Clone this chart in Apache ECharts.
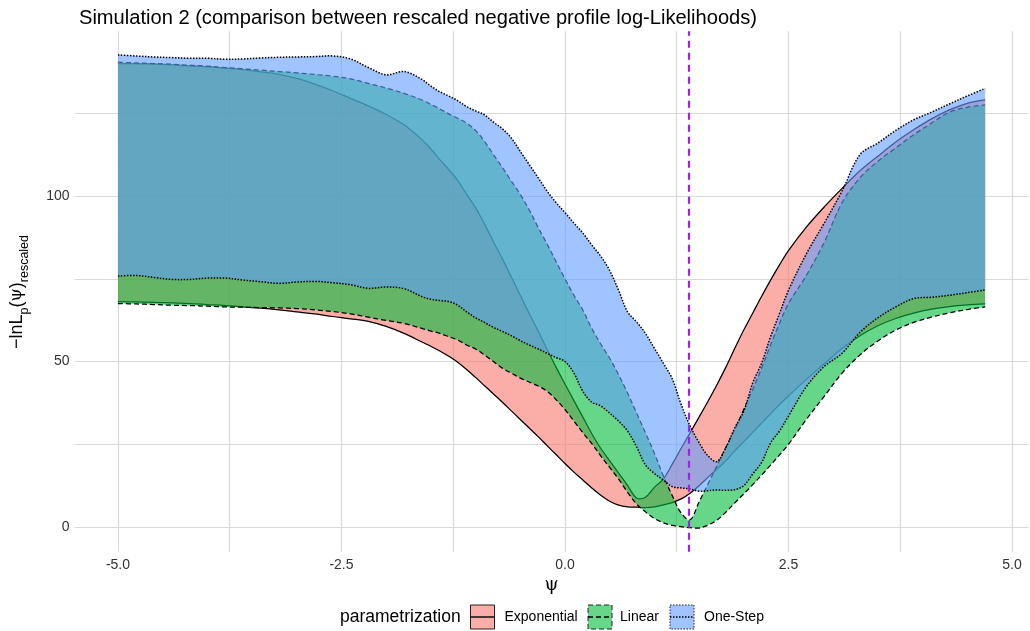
<!DOCTYPE html>
<html>
<head>
<meta charset="utf-8">
<script src="https://cdn.jsdelivr.net/npm/echarts@6/dist/echarts.min.js"></script>
<style>
  html, body { margin: 0; padding: 0; background: #ffffff; }
  #chart { width: 1030px; height: 631px; }
</style>
</head>
<body>
<div id="chart"></div>
<script>
// psi grid shared by all bounds
const psi = [
  -5.0, -4.8, -4.6, -4.4, -4.2, -4.0, -3.8, -3.6, -3.4, -3.2, -3.0, -2.8, -2.6, -2.4, -2.2, -2.0, -1.8, -1.6,
  -1.5, -1.4, -1.3, -1.2, -1.1, -1.0, -0.9, -0.8, -0.7, -0.6, -0.5, -0.4, -0.3, -0.2, -0.1,
  0.0, 0.1, 0.2, 0.3, 0.4, 0.5, 0.6, 0.7, 0.8, 0.9, 1.0, 1.1, 1.2, 1.3, 1.4, 1.5, 1.6, 1.7, 1.8, 1.9,
  2.0, 2.1, 2.2, 2.3, 2.4, 2.5, 2.7, 2.9, 3.1, 3.3, 3.5, 3.7, 3.9, 4.1, 4.3, 4.5, 4.7
];

// Exponential parametrization: lower / upper bound
const expLo = [
  68.1, 68.0, 67.9, 67.7, 67.5, 67.2, 66.9, 66.5, 66.1, 65.6, 65.0, 64.4, 63.6, 62.9, 62.1, 60.6, 58.5, 55.9,
  54.6, 53.2, 51.6, 49.8, 47.6, 45.2, 42.7, 40.2, 37.7, 35.1, 32.5, 29.9, 27.3, 24.6, 21.9,
  19.2, 16.6, 14.2, 11.8, 9.6, 7.8, 6.6, 6.1, 6.0, 5.9, 6.1, 6.7, 7.4, 8.5, 10.2, 12.5, 15.0, 17.5, 20.0, 23.0,
  25.8, 28.6, 31.4, 34.2, 37.0, 39.6, 44.6, 49.3, 54.0, 57.8, 60.8, 63.0, 64.6, 65.8, 66.6, 67.1, 67.4
];
const expHi = [
  140.0, 140.0, 139.8, 139.6, 139.3, 139.0, 138.6, 138.2, 137.5, 136.7, 135.5, 133.8, 131.8, 129.5, 127.2, 124.6, 121.5, 117.0,
  114.2, 111.0, 108.0, 104.7, 100.5, 96.5, 91.5, 86.2, 81.0, 75.5, 70.0, 64.5, 59.2, 53.7, 48.3,
  43.2, 38.2, 33.2, 28.2, 23.8, 20.0, 16.3, 12.6, 8.8, 9.0, 12.0, 14.5, 19.0, 23.8, 28.5, 33.2, 38.0, 43.0, 48.3, 54.0,
  59.5, 64.6, 69.7, 74.6, 79.2, 83.5, 90.6, 96.7, 102.3, 107.6, 112.0, 116.3, 120.0, 123.3, 126.0, 128.0, 129.0
];

// Linear parametrization: lower / upper bound
const linLo = [
  67.5, 67.4, 67.2, 67.0, 66.9, 66.7, 66.5, 66.4, 66.3, 66.2, 66.0, 65.6, 65.1, 64.4, 63.4, 62.4, 61.5, 60.0,
  59.2, 58.5, 57.5, 56.5, 55.0, 53.8, 52.0, 50.0, 48.0, 46.5, 45.0, 43.8, 42.6, 41.0, 38.5,
  35.5, 32.0, 28.5, 25.2, 21.5, 18.0, 14.5, 10.5, 7.0, 4.6, 2.6, 1.3, 0.5, 0.1, -0.2, -0.3, 0.6, 2.1, 4.5, 7.3,
  10.0, 12.8, 15.7, 18.7, 21.8, 25.0, 32.5, 39.5, 46.5, 52.0, 56.2, 59.5, 61.8, 63.4, 64.7, 65.7, 66.5
];
const linHi = [
  140.4, 140.2, 140.0, 139.8, 139.5, 139.2, 138.8, 138.4, 138.0, 137.6, 137.2, 136.7, 136.2, 135.4, 134.0, 132.6, 131.0, 129.0,
  127.7, 126.3, 124.8, 123.5, 122.0, 119.8, 116.5, 112.5, 108.6, 104.5, 100.5, 95.8, 90.5, 85.5, 80.2,
  75.0, 70.0, 65.5, 60.0, 55.3, 51.0, 46.0, 40.5, 34.5, 28.5, 22.3, 15.5, 9.5, 4.2, 2.2, 7.6, 13.0, 18.5, 24.0, 29.5,
  35.5, 41.5, 48.0, 55.0, 61.5, 67.5, 76.0, 86.0, 98.0, 105.5, 110.5, 114.5, 118.5, 122.0, 125.3, 126.8, 127.5
];

// One-Step parametrization: lower / upper bound
const osLo = [
  75.8, 76.0, 75.4, 74.8, 74.8, 75.2, 75.2, 74.6, 74.1, 73.6, 74.0, 74.2, 73.8, 73.2, 72.1, 72.5, 72.0, 69.6,
  68.8, 68.4, 68.1, 67.0, 65.0, 63.2, 61.8, 60.3, 59.1, 57.8, 56.3, 55.0, 53.8, 52.5, 51.2,
  50.0, 46.5, 41.0, 37.7, 36.6, 34.4, 32.0, 29.0, 24.3, 18.8, 16.2, 14.2, 12.2, 11.8, 11.5, 10.8, 11.0, 11.2, 11.1, 11.3,
  12.5, 16.0, 19.5, 25.4, 29.0, 33.5, 42.4, 48.5, 52.5, 58.8, 63.2, 66.5, 69.0, 69.4, 70.0, 70.8, 71.6
];
const osHi = [
  142.6, 142.3, 142.0, 141.8, 141.6, 141.6, 141.3, 141.4, 141.7, 141.9, 142.0, 142.1, 142.3, 141.4, 138.8, 136.6, 137.6, 135.2,
  133.2, 131.5, 130.2, 128.8, 127.0, 125.7, 124.5, 122.3, 120.3, 117.5, 113.5, 109.5, 105.5, 101.5, 98.0,
  95.0, 91.8, 88.8, 85.2, 81.8, 77.5, 71.5, 65.0, 62.0, 58.5, 54.0, 49.5, 44.8, 37.0, 30.5, 25.5, 21.5, 19.8, 24.0, 30.0,
  35.0, 43.5, 49.5, 57.5, 64.5, 71.5, 82.5, 91.8, 101.5, 112.5, 116.0, 119.8, 123.0, 125.3, 127.8, 130.2, 132.5
];

// reference value of psi (dashed vertical line)
const refPsi = 1.386;

// grid breaks
const xMajor = [-5, -2.5, 0, 2.5, 5];
const xMinor = [-3.75, -1.25, 1.25, 3.75];
const yMajor = [0, 50, 100];
const yMinor = [25, 75, 125];

const groupNames = ['Exponential', 'Linear', 'One-Step'];

const SANS = 'Liberation Sans, Arial, Helvetica, sans-serif';
const fillsA = ['rgba(248,118,109,0.6)', 'rgba(0,186,56,0.6)', 'rgba(97,156,255,0.6)'];
const dashes = [null, [5, 3], [1.5, 1.5]];
const edgeWidths = [1.25, 1.25, 1.5];
const bounds = [[expLo, expHi], [linLo, linHi], [osLo, osHi]];
const SMOOTH = 0.35;

// ggplot-style 5% expansion of the data range
function expand(lo, hi) { const d = (hi - lo) * 0.05; return [lo - d, hi + d]; }
const allY = [].concat(expLo, expHi, linLo, linHi, osLo, osHi);
const [xMin, xMax] = expand(Math.min(...psi), Math.max(...psi));
const [yMin, yMax] = expand(Math.min(...allY), Math.max(...allY));

const near = (v, step) => Math.abs(v / step - Math.round(v / step)) < 1e-6;

const series = [];

// panel grid lines
series.push({
  type: 'line', data: [], silent: true,
  markLine: {
    silent: true, z: 0, animation: false, symbol: ['none', 'none'],
    label: { show: false },
    lineStyle: { color: '#D9D9D9', width: 1.2, type: 'solid' },
    data: xMajor.concat(xMinor).map(v => ({ xAxis: v }))
      .concat(yMajor.concat(yMinor).map(v => ({ yAxis: v })))
  }
});

// ribbons: filled band between lower and upper bound, outlined on both edges
groupNames.forEach((name, k) => {
  const lo = bounds[k][0], hi = bounds[k][1];
  series.push({
    name, type: 'custom', coordinateSystem: 'cartesian2d', silent: true, z: 2 + k,
    data: [[psi[0], lo[0]]],
    renderItem: (params, api) => {
      const loPts = psi.map((x, i) => api.coord([x, lo[i]]));
      const hiPts = psi.map((x, i) => api.coord([x, hi[i]]));
      const n = psi.length;
      // corners doubled so the closing edges stay straight when smoothed
      const ring = [hiPts[0]].concat(hiPts, [hiPts[n - 1], loPts[n - 1]],
        loPts.slice().reverse(), [loPts[0]]);
      const edge = { fill: null, stroke: '#000000', lineWidth: edgeWidths[k], lineDash: dashes[k], lineJoin: 'round' };
      return {
        type: 'group',
        children: [
          { type: 'polygon', shape: { points: ring, smooth: SMOOTH }, style: { fill: fillsA[k] } },
          { type: 'polyline', shape: { points: loPts, smooth: SMOOTH }, style: edge },
          { type: 'polyline', shape: { points: hiPts, smooth: SMOOTH }, style: edge }
        ]
      };
    }
  });
});

// reference line
series.push({
  type: 'line', data: [], silent: true,
  markLine: {
    silent: true, z: 20, animation: false, symbol: ['none', 'none'],
    label: { show: false },
    lineStyle: { color: '#A020F0', width: 2.2, type: [7, 5] },
    data: [{ xAxis: refPsi }]
  }
});

// legend drawn as graphic elements
const legendTop = 605, keySize = 24;
const keyX = [470.5, 588, 670];
const labelX = [504.5, 620, 704];
const graphic = [
  {
    type: 'text', x: 340, y: legendTop + keySize / 2,
    style: { text: 'parametrization', font: '17.5px ' + SANS, fill: '#000', verticalAlign: 'middle', align: 'left' }
  },
  {
    type: 'text', x: 19, y: 292, rotation: Math.PI / 2,
    style: {
      text: '{m|−lnL}{s|p}{m|(}{g|ψ}{m|)}{s|rescaled}',
      align: 'center', verticalAlign: 'middle',
      rich: {
        m: { font: '18px ' + SANS, fill: '#000', lineHeight: 22, verticalAlign: 'top' },
        g: { font: '17px DejaVu Serif, serif', fill: '#000', lineHeight: 22, verticalAlign: 'top' },
        s: { font: '12.5px ' + SANS, fill: '#000', lineHeight: 14, padding: [12, 0, 0, 0] }
      }
    }
  }
];
groupNames.forEach((name, k) => {
  graphic.push({
    type: 'rect', shape: { x: keyX[k], y: legendTop, width: keySize, height: keySize },
    style: { fill: fillsA[k], stroke: '#222', lineWidth: 1, lineDash: dashes[k] }
  });
  graphic.push({
    type: 'line', shape: { x1: keyX[k], y1: legendTop + keySize / 2, x2: keyX[k] + keySize, y2: legendTop + keySize / 2 },
    style: { stroke: '#000', lineWidth: 1.4, lineDash: dashes[k] }
  });
  graphic.push({
    type: 'text', x: labelX[k], y: legendTop + keySize / 2,
    style: { text: name, font: '14px ' + SANS, fill: '#000', verticalAlign: 'middle', align: 'left' }
  });
});

const chart = echarts.init(document.getElementById('chart'), null, { renderer: 'canvas' });
chart.setOption({
  animation: false,
  backgroundColor: '#ffffff',
  title: {
    text: 'Simulation 2 (comparison between rescaled negative profile log-Likelihoods)',
    left: 74, top: 3,
    textStyle: { fontFamily: SANS, fontSize: 20.1, fontWeight: 'normal', color: '#000' }
  },
  grid: {
    left: 74.6, right: 1.5, top: 31.3, bottom: 79.3,
    containLabel: false, outerBoundsMode: 'none'
  },
  xAxis: {
    type: 'value', min: xMin, max: xMax, minInterval: 2.5, maxInterval: 2.5,
    axisLine: { show: false }, axisTick: { show: false }, splitLine: { show: false },
    axisLabel: {
      margin: 6, color: '#333', fontSize: 14, fontFamily: SANS,
      formatter: v => near(v, 2.5) ? v.toFixed(1) : ''
    },
    name: 'ψ', nameLocation: 'middle', nameGap: 18,
    nameTextStyle: { fontFamily: 'DejaVu Serif, serif', fontSize: 18, color: '#000' }
  },
  yAxis: {
    type: 'value', min: yMin, max: yMax, minInterval: 50, maxInterval: 50,
    axisLine: { show: false }, axisTick: { show: false }, splitLine: { show: false },
    axisLabel: {
      margin: 5, color: '#333', fontSize: 14, fontFamily: SANS,
      formatter: v => near(v, 50) ? String(Math.round(v)) : ''
    }
  },
  graphic,
  series
});
</script>
</body>
</html>
